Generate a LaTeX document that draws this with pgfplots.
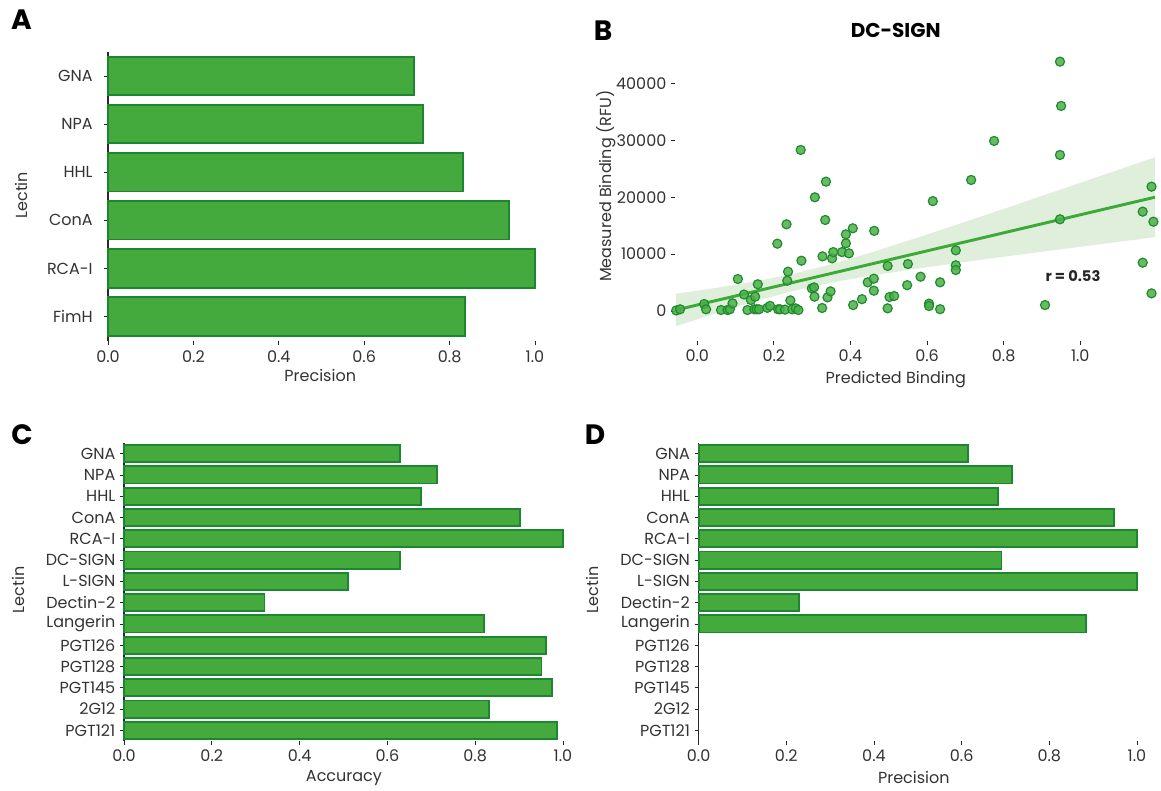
\documentclass[border=0pt]{standalone}
\usepackage{pgfplots}
\pgfplotsset{compat=1.18}
\usepackage{fontspec}
\setmainfont{Poppins}
\definecolor{barfill}{RGB}{68,170,62}
\definecolor{baredge}{RGB}{28,135,48}
\definecolor{ptfill}{RGB}{76,176,72}
\definecolor{ptedge}{RGB}{30,140,45}
\definecolor{linec}{RGB}{60,170,55}
\definecolor{bandc}{RGB}{224,239,220}
\definecolor{textc}{RGB}{51,51,51}
\definecolor{axisc}{RGB}{40,40,40}
\newcommand{\tickfont}{\fontsize{12}{14}\selectfont}
\pgfplotsset{
  common/.style={
    scale only axis, clip=false, enlargelimits=false,
    axis x line*=bottom, axis y line*=left,
    axis line style={-},
    x axis line style={draw=none},
    tick align=outside, major tick length=3pt,
    tick style={draw=axisc, line width=0.6pt},
    /pgf/number format/assume math mode=true,
    tick label style={font=\tickfont, text=textc},
    label style={font=\tickfont, text=textc},
  },
  barpanel/.style={
    common,
    xmin=0, xmax=1.0, ymin=-0.5, y dir=reverse,
    y axis line style={draw=axisc, line width=0.8pt},
    xtick={0,0.2,0.4,0.6,0.8,1.0},
    xticklabel style={/pgf/number format/.cd, fixed, fixed zerofill, precision=1, /tikz/.cd},
    ytick=data,
  },
  bars/.style={xbar, bar width=0.8, bar shift=0pt, fill=barfill, draw=baredge, line width=1.4pt},
}
\pgfplotstableread{
v y
0.716 0
0.738 1
0.832 2
0.940 3
1.000 4
0.836 5
}\tabA
\pgfplotstableread{
v y
0.629 0
0.712 1
0.677 2
0.903 3
1.000 4
0.629 5
0.511 6
0.320 7
0.820 8
0.962 9
0.951 10
0.974 11
0.831 12
0.986 13
}\tabC
\pgfplotstableread{
v y
0.615 0
0.714 1
0.682 2
0.947 3
1.000 4
0.691 5
1.000 6
0.229 7
0.884 8
}\tabD
\pgfplotstableread{
x y
-0.055 100
-0.045 300
0.018 1230
0.023 300
0.062 175
0.079 175
0.085 300
0.092 1350
0.106 5620
0.122 2900
0.131 175
0.140 1930
0.149 300
0.151 2520
0.155 300
0.158 4700
0.161 300
0.183 560
0.190 900
0.209 11830
0.211 300
0.216 300
0.229 250
0.233 15230
0.235 5330
0.237 6910
0.243 1870
0.248 300
0.257 470
0.264 175
0.270 28290
0.272 8840
0.299 3980
0.305 4160
0.306 2520
0.307 19970
0.326 530
0.327 9600
0.334 15990
0.336 22720
0.340 2400
0.348 3450
0.352 9250
0.355 10350
0.378 10350
0.388 11890
0.388 13470
0.396 10130
0.406 14530
0.407 1050
0.430 2080
0.445 5040
0.462 14080
0.461 5680
0.461 3570
0.497 7910
0.497 470
0.502 2460
0.514 2640
0.548 4540
0.550 8260
0.583 6030
0.605 1300
0.605 880
0.615 19300
0.634 5040
0.634 320
0.675 10660
0.675 8030
0.675 7200
0.715 23020
0.775 29870
0.908 1050
0.947 43800
0.950 36020
0.947 27410
0.947 16110
1.163 17450
1.163 8490
1.186 21840
1.186 3100
1.191 15690
}\tabB
\pgfplotstableread{
x y
-0.056 3026
0.05 4075
0.15 5184
0.25 6528
0.35 8215
0.45 10192
0.6 13430
0.75 16799
0.9 20220
1.05 23666
1.195 27010
1.195 12968
1.05 11718
0.9 10412
0.75 9081
0.6 7698
0.45 6184
0.35 4993
0.25 3512
0.15 1688
0.05 -371
-0.056 -2680
}\tabBand
\begin{document}
\begin{tikzpicture}
\useasboundingbox (0pt,0pt) rectangle (870.75pt,592.5pt);
% Panel A
\begin{axis}[barpanel, at={(81pt,337.1pt)}, anchor=south west,
  width=320.25pt, height=216.4pt, ymax=5.5,
  yticklabels={GNA,NPA,HHL,ConA,RCA-I,FimH},
  yticklabel style={/tikz/xshift=-5pt},
  xticklabel style={/tikz/yshift=-1pt},
  xlabel={Precision}, ylabel={Lectin},
  xlabel style={at={(axis description cs:0.497,-0.1196)}, anchor=center},
  ylabel style={at={(axis description cs:-0.2026,0.504)}, anchor=center},
]
\addplot[bars] table[x=v,y=y] {\tabA};
\end{axis}
% Panel B
\begin{axis}[common, at={(506.3pt,336.6pt)}, anchor=south west,
  width=361.35pt, height=221.2pt,
  xmin=-0.058, xmax=1.2, ymin=-5300, ymax=46500,
  y axis line style={draw=none},
  xtick={0,0.2,0.4,0.6,0.8,1.0},
  xticklabel style={/pgf/number format/.cd, fixed, fixed zerofill, precision=1, /tikz/.cd},
  ytick={0,10000,20000,30000,40000}, scaled y ticks=false,
  yticklabel style={/pgf/number format/.cd, fixed, 1000 sep={}, /tikz/.cd},
  xlabel={Predicted Binding}, ylabel={Measured Binding (RFU)},
  xlabel style={at={(axis description cs:0.458,-0.1316)}, anchor=center},
  ylabel style={at={(axis description cs:-0.142,0.525)}, anchor=center},
  title={DC-SIGN},
  title style={at={(axis description cs:0.458,1.028)}, anchor=center, font=\fontsize{15}{17}\selectfont\bfseries, text=black},
]
\addplot[fill=bandc, draw=none] table[x=x,y=y] {\tabBand} -- cycle;
\addplot[linec, line width=2.2pt] coordinates {(-0.056,173) (1.195,19989)};
\addplot[only marks, mark=*, mark size=3.4pt, mark options={fill=ptfill, draw=ptedge, line width=0.9pt, fill opacity=0.85}] table[x=x,y=y] {\tabB};
\node[font=\fontsize{11}{13}\selectfont\bfseries, text=black!85] at (axis cs:0.981,6150) {r = 0.53};
\end{axis}
% Panel C
\begin{axis}[barpanel, at={(93pt,36.75pt)}, anchor=south west,
  width=329.25pt, height=223.5pt, ymax=13.5,
  yticklabels={GNA,NPA,HHL,ConA,RCA-I,DC-SIGN,L-SIGN,Dectin-2,Langerin,PGT126,PGT128,PGT145,2G12,PGT121},
  xlabel={Accuracy}, ylabel={Lectin},
  xlabel style={at={(axis description cs:0.501,-0.124)}, anchor=center},
  ylabel style={at={(axis description cs:-0.240,0.507)}, anchor=center},
]
\addplot[bars] table[x=v,y=y] {\tabC};
\end{axis}
% Panel D
\begin{axis}[barpanel, at={(523.95pt,36.75pt)}, anchor=south west,
  width=328.8pt, height=223.5pt, ymax=13.5,
  ytick={0,1,2,3,4,5,6,7,8,9,10,11,12,13},
  yticklabels={GNA,NPA,HHL,ConA,RCA-I,DC-SIGN,L-SIGN,Dectin-2,Langerin,PGT126,PGT128,PGT145,2G12,PGT121},
  xlabel={Precision}, ylabel={Lectin},
  xlabel style={at={(axis description cs:0.491,-0.124)}, anchor=center},
  ylabel style={at={(axis description cs:-0.241,0.507)}, anchor=center},
]
\addplot[bars] table[x=v,y=y] {\tabD};
\end{axis}
% Panel letters
\node[font=\fontsize{21}{24}\selectfont\bfseries] at (16.1pt,577.5pt) {A};
\node[font=\fontsize{21}{24}\selectfont\bfseries] at (452.25pt,569.25pt) {B};
\node[font=\fontsize{21}{24}\selectfont\bfseries] at (16.5pt,266.25pt) {C};
\node[font=\fontsize{21}{24}\selectfont\bfseries] at (446.25pt,266.25pt) {D};
\end{tikzpicture}
\end{document}
